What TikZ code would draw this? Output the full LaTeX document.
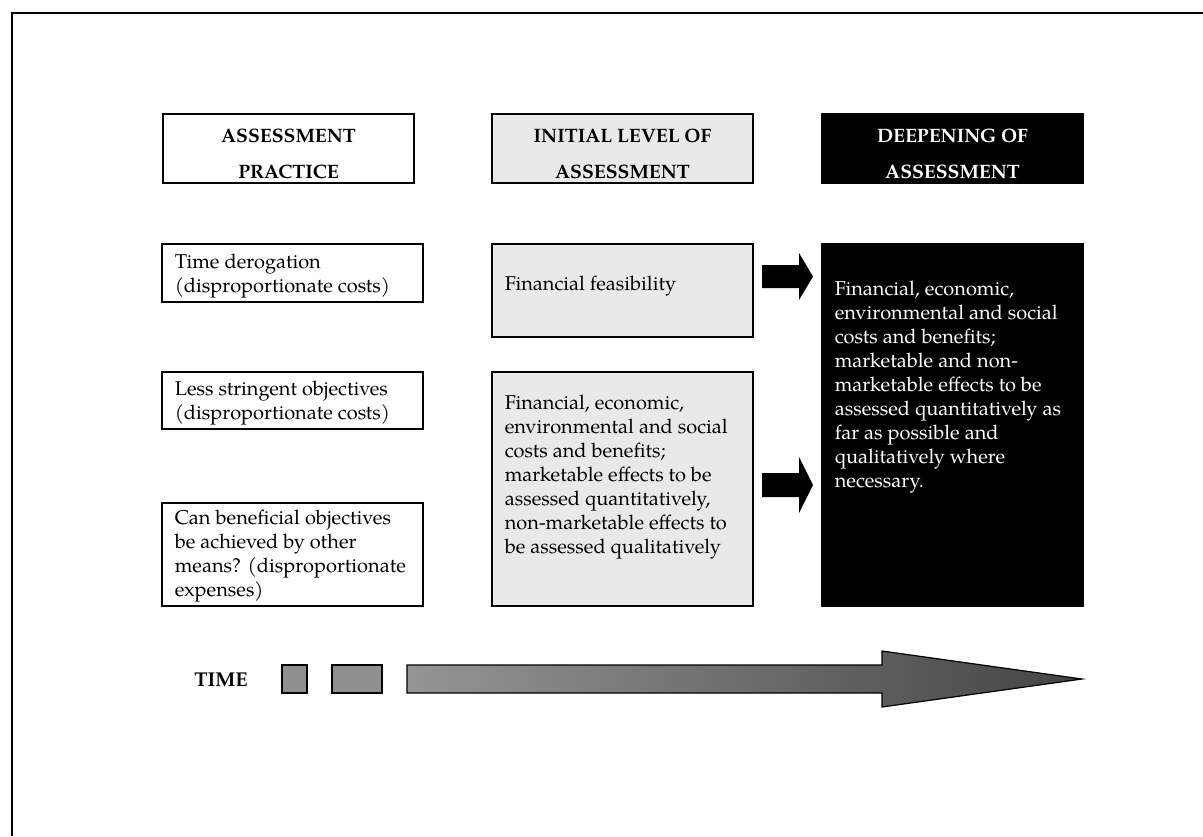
\documentclass[tikz,border=0pt]{standalone}
\usepackage{fontspec}
\setmainfont{TeX Gyre Pagella}
\usetikzlibrary{fit}
\definecolor{lightbox}{HTML}{E9E9E9}
\definecolor{sqgray}{HTML}{8F8F8F}
\definecolor{arrowA}{HTML}{959595}
\definecolor{arrowB}{HTML}{444444}
\begin{document}
\begin{tikzpicture}[x=0.5pt,y=-0.5pt,
  boxline/.style={draw=black,line width=0.6pt,inner sep=0pt},
  hdr/.style={font=\fontsize{9.7}{18}\selectfont\bfseries,align=center,inner sep=0pt},
  body/.style={font=\fontsize{10}{12}\selectfont,align=left,inner sep=0pt},
  blockarrow/.style={fill=black},
]
\useasboundingbox (0,0) rectangle (1203,836);
\fill[white] (0,0) rectangle (1203,836);
% outer frame (left and top edges visible)
\draw[line width=1pt] (12,836) -- (12,13) -- (1203,13);

% headers
\node[boxline,fill=white,fit={(163,114) (414,183)}] (h1) {};
\node[boxline,fill=lightbox,fit={(492,114) (753,183)}] (h2) {};
\node[boxline,fill=black,fit={(822,114) (1083,183)}] (h3) {};
\node[hdr] (h1t) at ([yshift=-2.5pt]h1.center) {ASSESSMENT\\PRACTICE};
\node[hdr] (h2t) at ([yshift=-2.5pt]h2.center) {INITIAL LEVEL OF\\ASSESSMENT};
\node[hdr,text=white] (h3t) at ([yshift=-2.5pt]h3.center) {DEEPENING OF\\ASSESSMENT};

% left column
\node[boxline,fill=white,fit={(162,244) (423,302)}] (a) {};
\node[boxline,fill=white,fit={(162,372) (423,429)}] (b) {};
\node[boxline,fill=white,fit={(162,503) (423,606)}] (c) {};
\node[body,anchor=west] (ta) at ([xshift=6.5pt,yshift=-1.5pt]a.west) {Time derogation\\(disproportionate costs)};
\node[body,anchor=west] (tb) at ([xshift=6.5pt,yshift=-1.5pt]b.west) {Less stringent objectives\\(disproportionate costs)};
\node[body,anchor=west] (tc) at ([xshift=6.5pt,yshift=-1pt]c.west) {Can beneficial objectives\\be achieved by other\\means? (disproportionate\\expenses)};

% middle column
\node[boxline,fill=lightbox,fit={(492,244) (753,337)}] (d) {};
\node[boxline,fill=lightbox,fit={(492,372) (753,606)}] (e) {};
\node[body,anchor=west] (td) at ([xshift=6.5pt,yshift=2pt]d.west) {Financial feasibility};
\node[body,anchor=west] (te) at ([xshift=6.5pt,yshift=6pt]e.west) {Financial, economic,\\environmental and social\\costs and benefits;\\marketable effects to be\\assessed quantitatively,\\non-marketable effects to\\be assessed qualitatively};

% right column
\node[boxline,fill=black,fit={(822,244) (1083,606)}] (f) {};
\node[body,text=white,anchor=north west] (tf) at ([xshift=6.5pt,yshift=-18.5pt]f.north west) {Financial, economic,\\environmental and social\\costs and benefits;\\marketable and non-\\marketable effects to be\\assessed quantitatively as\\far as possible and\\qualitatively where\\necessary.};

% block arrows
\fill[blockarrow] (762,265) -- (799,265) -- (799,253) -- (813,276.5) -- (799,300) -- (799,288) -- (762,288) -- cycle;
\fill[blockarrow] (762,473) -- (799,473) -- (799,457) -- (813,485) -- (799,513) -- (799,497) -- (762,497) -- cycle;

% time row
\node[font=\fontsize{10}{12}\selectfont\bfseries,inner sep=0pt] (time) at (221,680) {TIME};
\node[boxline,fill=sqgray,fit={(282,665) (307,693)}] (s1) {};
\node[boxline,fill=sqgray,fit={(332,665) (382,693)}] (s2) {};
\path[draw=black,line width=0.6pt,left color=arrowA,right color=arrowB]
  (407,665) -- (882,665) -- (882,651) -- (1082,679) -- (882,707) -- (882,693) -- (407,693) -- cycle;
\end{tikzpicture}
\end{document}
